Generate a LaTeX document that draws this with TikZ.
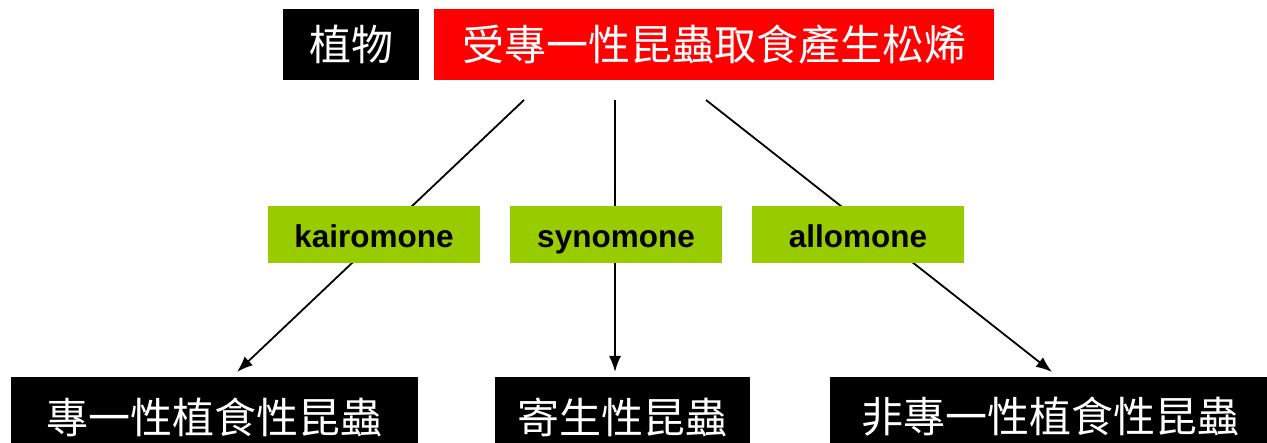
\documentclass[tikz,border=0pt]{standalone}
\usepackage{fontspec}
\setmainfont{Liberation Sans}
\newfontfamily\cjk{Noto Sans CJK TC}
\usetikzlibrary{arrows.meta}
\definecolor{leaf}{HTML}{99CC00}
\definecolor{hot}{HTML}{FF0000}
\tikzset{
  cjkbox/.style={fill=black, text=white, inner sep=0pt, font=\cjk\fontsize{42}{42}\selectfont},
  redbox/.style={fill=hot, text=white, inner sep=0pt, font=\cjk\fontsize{42}{42}\selectfont},
  tagbox/.style={fill=leaf, text=black, inner sep=0pt, minimum width=212pt, minimum height=57pt,
    text height=27pt, text depth=0pt, font=\bfseries\fontsize{31.5}{31.5}\selectfont},
  link/.style={line width=1.8pt, -{Latex[length=16pt,width=12pt]}}
}
\begin{document}
\begin{tikzpicture}[x=1pt,y=-1pt]
\useasboundingbox (0,0) rectangle (1267,443);
% connector end points
\coordinate (s1) at (524,100);
\coordinate (s2) at (615,100);
\coordinate (s3) at (706,100);
\coordinate (e1) at (237,372);
\coordinate (e2) at (615,372);
\coordinate (e3) at (1052,372);
\draw[link] (s1) -- (e1);
\draw[link] (s2) -- (e2);
\draw[link] (s3) -- (e3);
% top boxes
\node[cjkbox, minimum width=136pt, minimum height=71pt] (plant) at (351,44.5) {植物};
\node[redbox, minimum width=560pt, minimum height=71pt] (cause) at (714,44.5) {受專一性昆蟲取食產生松烯};
% labels
\node[tagbox] (kair) at (374,234.5) {kairomone};
\node[tagbox] (syno) at (616,234.5) {synomone};
\node[tagbox] (allo) at (858,234.5) {allomone};
% bottom boxes
\node[cjkbox, minimum width=407pt, minimum height=80pt] (spec) at (214.5,417) {專一性植食性昆蟲};
\node[cjkbox, minimum width=255pt, minimum height=80pt] (para) at (622.5,417) {寄生性昆蟲};
\node[cjkbox, minimum width=440pt, minimum height=80pt] (gen) at (1050,417) {非專一性植食性昆蟲};
\end{tikzpicture}
\end{document}
